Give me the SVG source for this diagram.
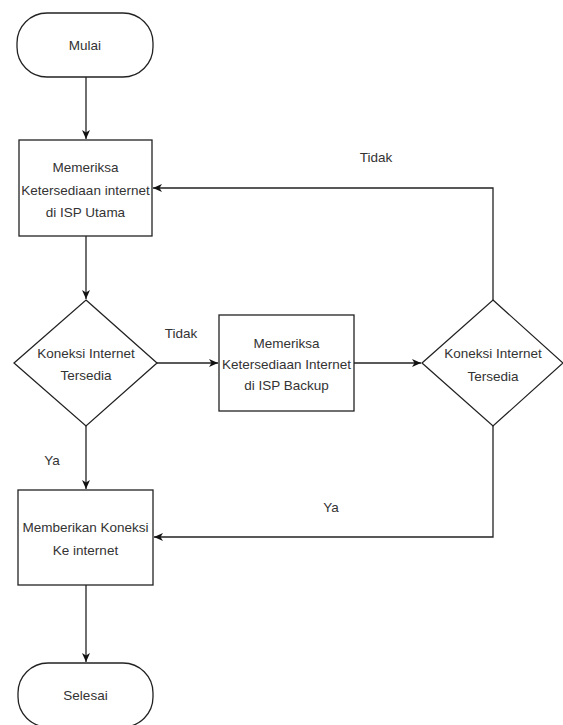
<svg xmlns="http://www.w3.org/2000/svg" width="563" height="725" viewBox="0 0 563 725">
<style>
.shape{fill:#fff;stroke:#222;stroke-width:1.3}
.txt{font-family:"Liberation Sans",Arial,sans-serif;font-size:13.5px;fill:#333;text-anchor:middle}
.edge{fill:none;stroke:#222;stroke-width:1.3}
</style>
<defs>
<marker id="arr" markerWidth="10" markerHeight="8" refX="9" refY="4" orient="auto" markerUnits="userSpaceOnUse">
<path d="M0,0 L9,4 L0,8 L2.5,4 Z" fill="#111"/>
</marker>
</defs>
<rect width="563" height="725" fill="#fff"/>
<g id="connectors">
<path class="edge" d="M86,77 L86,139" marker-end="url(#arr)"/>
<path class="edge" d="M86,236 L86,299" marker-end="url(#arr)"/>
<path class="edge" d="M157,363 L218,363" marker-end="url(#arr)"/>
<path class="edge" d="M354,363 L421,363" marker-end="url(#arr)"/>
<path class="edge" d="M493,300 L493,188 L153,188" marker-end="url(#arr)"/>
<path class="edge" d="M493,426 L493,537 L154,537" marker-end="url(#arr)"/>
<path class="edge" d="M86,426 L86,489" marker-end="url(#arr)"/>
<path class="edge" d="M86,585 L86,662" marker-end="url(#arr)"/>
<text class="txt" x="181" y="338">Tidak</text>
<text class="txt" x="376" y="162">Tidak</text>
<text class="txt" x="331" y="512">Ya</text>
<text class="txt" x="52" y="465">Ya</text>
</g>
<g id="mulai">
<rect class="shape" x="17" y="13" width="136" height="64" rx="30" ry="30"/>
<text class="txt" x="85" y="50">Mulai</text>
</g>
<g id="cek-utama">
<rect class="shape" x="19" y="140" width="133" height="96"/>
<text class="txt" x="85.5" y="172">Memeriksa</text>
<text class="txt" x="85.5" y="195">Ketersediaan internet</text>
<text class="txt" x="85.5" y="217">di ISP Utama</text>
</g>
<g id="koneksi-1">
<polygon class="shape" points="86,300 157,363 86,426 14,363"/>
<text class="txt" x="86" y="358">Koneksi Internet</text>
<text class="txt" x="86" y="380">Tersedia</text>
</g>
<g id="cek-backup">
<rect class="shape" x="219" y="315" width="135" height="96"/>
<text class="txt" x="286.5" y="348">Memeriksa</text>
<text class="txt" x="286.5" y="369">Ketersediaan Internet</text>
<text class="txt" x="286.5" y="390">di ISP Backup</text>
</g>
<g id="koneksi-2">
<polygon class="shape" points="493,300 563,363 493,426 422,363"/>
<text class="txt" x="493" y="358">Koneksi Internet</text>
<text class="txt" x="493" y="381">Tersedia</text>
</g>
<g id="berikan">
<rect class="shape" x="18" y="490" width="135" height="95"/>
<text class="txt" x="85.5" y="532">Memberikan Koneksi</text>
<text class="txt" x="85.5" y="555">Ke internet</text>
</g>
<g id="selesai">
<rect class="shape" x="18" y="663" width="135" height="64" rx="30" ry="30"/>
<text class="txt" x="85.5" y="700">Selesai</text>
</g>
</svg>
